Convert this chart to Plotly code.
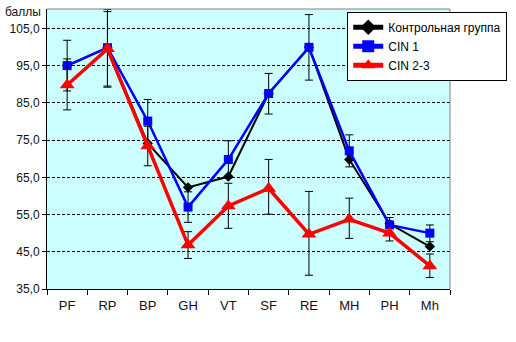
import plotly.graph_objects as go

categories = ["PF", "RP", "BP", "GH", "VT", "SF", "RE", "MH", "PH", "Mh"]

control = [95.0, 99.8, 74.1, 62.3, 65.2, 87.5, 99.9, 69.8, 52.5, 46.4]

cin1 = [95.0, 99.8, 80.1, 57.0, 69.8, 87.5, 99.9, 72.1, 52.2, 50.0]
cin1_err_plus = [6.8, 10.3, 5.8, 4.1, 5.0, 5.4, 8.8, 4.3, 2.0, 2.2]
cin1_err_minus = [6.8, 10.6, 5.8, 4.1, 5.0, 5.5, 8.8, 4.3, 2.0, 2.3]

cin23 = [89.8, 99.5, 73.4, 46.8, 57.3, 62.0, 49.7, 53.7, 50.0, 41.2]
cin23_err_plus = [7.0, 10.0, 5.3, 3.6, 6.1, 7.8, 11.5, 5.7, 2.6, 3.2]
cin23_err_minus = [6.7, 10.0, 5.3, 3.6, 6.0, 6.9, 11.0, 5.1, 2.1, 3.1]

y_ticks = [35, 45, 55, 65, 75, 85, 95, 105]
y_tick_labels = ["35,0", "45,0", "55,0", "65,0", "75,0", "85,0", "95,0", "105,0"]

series_names = ["Контрольная группа", "CIN 1", "CIN 2-3"]

fig = go.Figure()

# drawing order as in the original: control, CIN 1, CIN 2-3 on top
fig.add_trace(go.Scatter(
    x=categories, y=control, name=series_names[0], mode="lines+markers",
    line=dict(color="#000000", width=2),
    marker=dict(symbol="diamond", size=8, color="#000000"),
))
fig.add_trace(go.Scatter(
    x=categories, y=cin1, name=series_names[1], mode="lines+markers",
    line=dict(color="#0000FF", width=2.5),
    marker=dict(symbol="square", size=9, color="#0000FF"),
    error_y=dict(type="data", symmetric=False, array=cin1_err_plus,
                 arrayminus=cin1_err_minus, color="black", thickness=1, width=4),
))
fig.add_trace(go.Scatter(
    x=categories, y=cin23, name=series_names[2], mode="lines+markers",
    line=dict(color="#FF0000", width=3.5),
    marker=dict(symbol="triangle-up", size=13, color="#FF0000"),
    error_y=dict(type="data", symmetric=False, array=cin23_err_plus,
                 arrayminus=cin23_err_minus, color="black", thickness=1, width=4),
))

fig.update_layout(
    width=516, height=342,
    margin=dict(l=47, r=66, t=9, b=53),
    paper_bgcolor="white",
    plot_bgcolor="#CCFFFF",
    font=dict(family="Liberation Sans, Arial, sans-serif", size=12, color="#000000"),
    legend=dict(
        x=0.745, y=0.99, xanchor="left", yanchor="top",
        bgcolor="white", bordercolor="black", borderwidth=1,
        font=dict(size=12, color="black"), tracegroupgap=0, itemsizing="constant",
        traceorder="normal",
    ),
    xaxis=dict(
        type="category", range=[-0.5, 9.5],
        showline=True, linecolor="black", linewidth=1,
        ticks="outside", tickson="boundaries", ticklen=5, tickcolor="black",
        showgrid=False, tickfont=dict(size=13, color="#111111"),
        ticklabelstandoff=4,
    ),
    yaxis=dict(
        range=[35, 110.2], tickvals=y_ticks, ticktext=y_tick_labels,
        showline=True, linecolor="black", linewidth=1,
        ticks="outside", ticklen=4, tickcolor="black",
        showgrid=True, gridcolor="black", gridwidth=1, griddash="3px,2px",
        zeroline=False, tickfont=dict(size=12, color="#111111"),
    ),
    shapes=[
        dict(type="line", xref="paper", yref="paper", x0=0, x1=1, y0=1, y1=1,
             line=dict(color="#808080", width=1)),
        dict(type="line", xref="paper", yref="paper", x0=1, x1=1, y0=0, y1=1,
             line=dict(color="#808080", width=1)),
    ],
    annotations=[
        dict(text="баллы", xref="paper", yref="paper", x=0, y=1,
             xanchor="right", yanchor="middle", xshift=-4, yshift=-3,
             showarrow=False, font=dict(size=12, color="#111111")),
    ],
)

fig.write_html("out.html")
